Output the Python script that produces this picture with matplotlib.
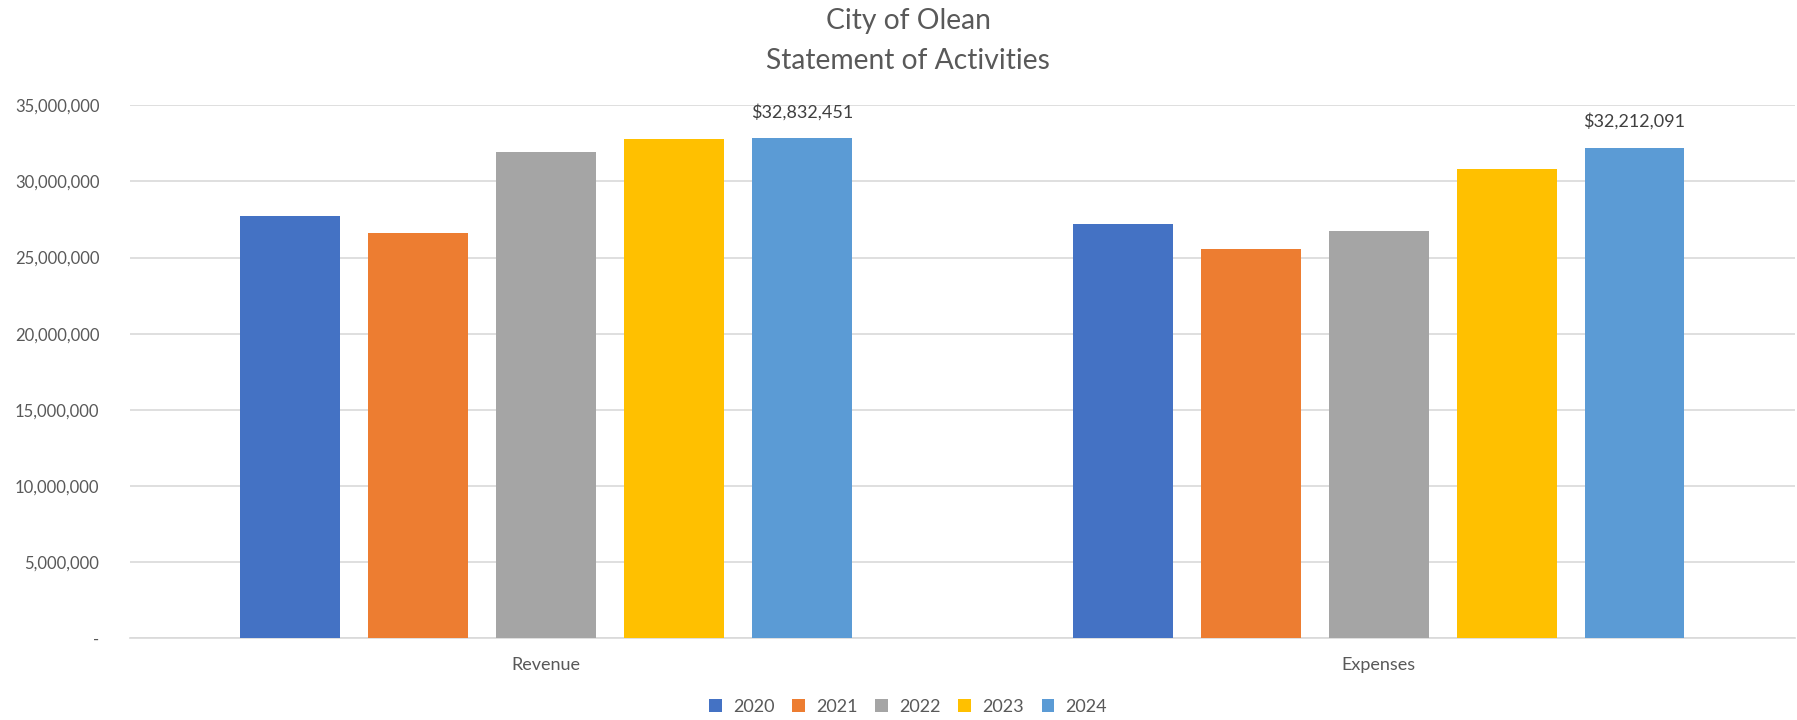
import matplotlib
matplotlib.use("Agg")
import matplotlib.pyplot as plt
import numpy as np
from matplotlib.ticker import FuncFormatter

categories = ["Revenue", "Expenses"]
years = ["2020", "2021", "2022", "2023", "2024"]
values_2020 = [27750000, 27200000]
values_2021 = [26600000, 25550000]
values_2022 = [31900000, 26750000]
values_2023 = [32750000, 30800000]
values_2024 = [32832451, 32212091]
series = [values_2020, values_2021, values_2022, values_2023, values_2024]
colors = ["#4472C4", "#ED7D31", "#A5A5A5", "#FFC000", "#5B9BD5"]
yticks = [0, 5000000, 10000000, 15000000, 20000000, 25000000, 30000000, 35000000]

FONT = "Lato"
GRAY = "#595959"

fig = plt.figure(figsize=(17.97, 7.2), dpi=100)
ax = fig.add_axes([0.0723, 0.1132, 0.9265, 0.7407])

x = np.arange(len(categories))
pitch = 0.1537
width = 0.12
bars = []
for i, (vals, c, yr) in enumerate(zip(series, colors, years)):
    b = ax.bar(x + (i - 2) * pitch, vals, width=width, color=c, label=yr, zorder=3)
    bars.append(b)

# data labels for 2024
for rect, v in zip(bars[-1], values_2024):
    ax.annotate(f"${v:,.0f}", xy=(rect.get_x() + rect.get_width() / 2, v),
                xytext=(0, 13), textcoords="offset points", ha="center", va="bottom",
                fontsize=13, color="#404040", family=FONT)

ax.set_xlim(-0.5, 1.5)
ax.set_ylim(0, 35000000)
ax.set_yticks(yticks)
ax.yaxis.set_major_formatter(FuncFormatter(lambda v, p: "-" if v == 0 else f"{v:,.0f}"))
ax.set_xticks(x)
ax.set_xticklabels(categories)
ax.grid(axis="y", color="#D9D9D9", linewidth=1.2, zorder=0)
for s in ["top", "right", "left"]:
    ax.spines[s].set_visible(False)
ax.spines["bottom"].set_color("#D9D9D9")
ax.spines["bottom"].set_linewidth(1.2)
ax.tick_params(axis="y", length=0, pad=22, labelsize=12, labelcolor=GRAY)
ax.tick_params(axis="x", length=0, pad=13, labelsize=13, labelcolor=GRAY)
for lbl in ax.get_xticklabels() + ax.get_yticklabels():
    lbl.set_family(FONT)

cx = 908 / 1797
fig.text(cx, 1 - 20.6 / 720, "City of Olean", ha="center", va="center",
         fontsize=20.3, color=GRAY, family=FONT)
fig.text(cx, 1 - 60.7 / 720, "Statement of Activities", ha="center", va="center",
         fontsize=20.3, color=GRAY, family=FONT)

leg = fig.legend(handles=bars, labels=years, loc="center", bbox_to_anchor=(cx, 1 - 707 / 720),
                 ncol=5, frameon=False, handlelength=0.7, handleheight=0.7,
                 handletextpad=0.6, columnspacing=1.0, prop={"family": FONT, "size": 13})
for t in leg.get_texts():
    t.set_color(GRAY)

fig.savefig("out.png", dpi=100)
